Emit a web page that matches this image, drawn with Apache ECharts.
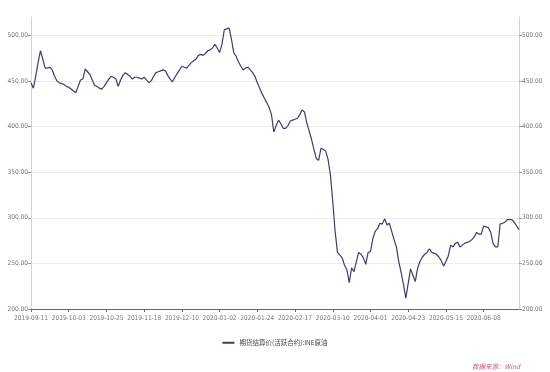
<!DOCTYPE html>
<html>
<head>
<meta charset="utf-8">
<script src="https://cdn.jsdelivr.net/npm/echarts@6/dist/echarts.min.js"></script>
<style>html,body{margin:0;padding:0;background:#fff;}#c{width:550px;height:372px;}</style>
</head>
<body>
<div id="c"></div>
<script>
var seriesName = '期货结算价(活跃合约):INE原油';
var sourceText = '数据来源：Wind';
var startDate = '2019-09-11';
var pointCount = 208;
var holidays = ['2020-01-01'];
var yTicks = [200, 250, 300, 350, 400, 450, 500];
var values = [
448,442,455,470,483,474,464,464,465,462,
455,450,448,447,446,444,443,441,439,437,
444,451,452,463,460,457,451,445,444,442,
441,444,448,452,455,454,452,444,451,456,
459,457,455,452,454,454,453,452,454,451,
448,450,455,459,460,461,462,461,456,452,
449,454,458,462,466,465,464,467,470,472,
474,478,479,478,480,483,484,486,490,486,
481,490,506,507,508,496,481,477,471,466,
462,464,465,462,459,455,448,442,436,431,
426,421,413,394,401,407,403,398,398,401,
406,407,408,409,413,418,416,404,395,386,
375,365,363,376,375,373,364,347,318,285,
262,259,256,248,243,229,245,241,252,262,
260,256,249,262,263,277,285,288,294,293,
299,292,294,285,276,268,252,240,227,212,
228,244,237,230,245,252,257,260,262,266,
262,261,260,257,253,247,252,258,270,268,
272,273,268,270,272,273,274,276,279,284,
282,282,291,290,289,284,272,268,268,293,
294,295,298,298,298,295,291,287
];

// trading-day calendar categories (weekdays minus holidays)
function buildDates(start, n) {
  var out = [];
  var d = new Date(start + 'T00:00:00Z');
  while (out.length < n) {
    var w = d.getUTCDay();
    var m = d.getUTCMonth() + 1, dd = d.getUTCDate();
    var s = d.getUTCFullYear() + '-' + (m < 10 ? '0' : '') + m + '-' + (dd < 10 ? '0' : '') + dd;
    if (w !== 0 && w !== 6 && holidays.indexOf(s) < 0) out.push(s);
    d.setUTCDate(d.getUTCDate() + 1);
  }
  return out;
}
var categories = buildDates(startDate, pointCount);

var lineColor = '#3d3d6b';
var narrow = 'Liberation Sans Narrow, DejaVu Sans Condensed, sans-serif';
var labelStyle = { fontSize: 6.5, color: '#777', fontFamily: narrow };
function yAxisDef(pos) {
  return {
    type: 'value', position: pos, min: 200, max: 520, interval: 50,
    axisLine: { show: true, lineStyle: { color: '#d4d4d4', width: 1 } },
    axisTick: { show: true, length: 3, lineStyle: { color: '#999' }, customValues: yTicks },
    axisLabel: Object.assign({ margin: 3, customValues: yTicks,
      formatter: function (v) { return v.toFixed(2); } }, labelStyle),
    splitLine: { show: pos === 'left', lineStyle: { color: ['#ececec','#ececec','#ececec','#ececec','#ececec','#ececec','#ececec','rgba(0,0,0,0)'], width: 1 } }
  };
}

var chart = echarts.init(document.getElementById('c'), null, { renderer: 'canvas' });
chart.setOption({
  backgroundColor: '#fff',
  animation: false,
  grid: { left: 31, right: 31, top: 17, bottom: 63, containLabel: false },
  xAxis: {
    type: 'category', data: categories, boundaryGap: false,
    axisLine: { lineStyle: { color: '#666', width: 1 } },
    axisTick: { show: true, interval: 15, length: 3, lineStyle: { color: '#666' } },
    axisLabel: Object.assign({ interval: 15, margin: 6, hideOverlap: false }, labelStyle),
    splitLine: { show: false }
  },
  yAxis: [yAxisDef('left'), yAxisDef('right')],
  legend: {
    bottom: 21, left: 'center', itemWidth: 12, itemHeight: 2, itemGap: 10,
    icon: 'rect',
    textStyle: { fontSize: 6.5, color: '#444', fontFamily: 'Noto Sans CJK SC' },
    data: [seriesName]
  },
  graphic: [{
    type: 'text', right: 30, bottom: 2,
    style: { text: sourceText, fill: '#d0587a', fontSize: 6.5, fontStyle: 'italic', fontFamily: 'Noto Sans CJK SC' }
  }],
  series: [{
    name: seriesName, type: 'line', data: values, yAxisIndex: 0,
    showSymbol: false, symbol: 'none',
    lineStyle: { color: lineColor, width: 1.2 },
    itemStyle: { color: lineColor }
  }]
});
</script>
</body>
</html>
